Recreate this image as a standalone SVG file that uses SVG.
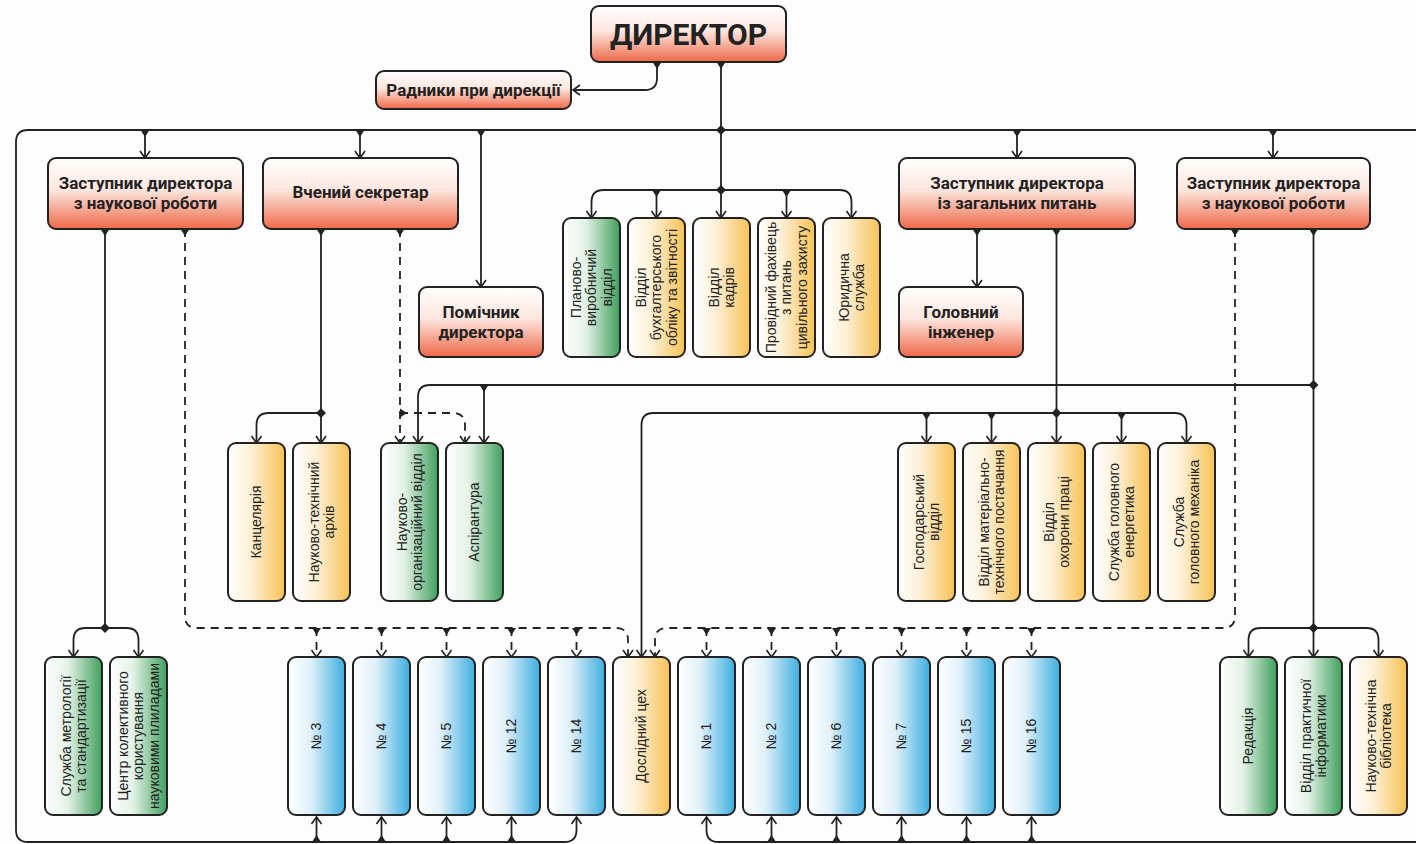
<svg xmlns="http://www.w3.org/2000/svg" width="1416" height="844" viewBox="0 0 1416 844">
<defs>
<linearGradient id="gRed" x1="0" y1="0" x2="0" y2="1"><stop offset="0" stop-color="#ffffff"/><stop offset="0.45" stop-color="#fde6de"/><stop offset="1" stop-color="#ee6848"/></linearGradient>
<linearGradient id="gYel" x1="0" y1="0" x2="1" y2="0"><stop offset="0" stop-color="#ffffff"/><stop offset="0.4" stop-color="#fdf0d6"/><stop offset="1" stop-color="#f7c255"/></linearGradient>
<linearGradient id="gGrn" x1="0" y1="0" x2="1" y2="0"><stop offset="0" stop-color="#ffffff"/><stop offset="0.4" stop-color="#e3f2e6"/><stop offset="1" stop-color="#3fa05c"/></linearGradient>
<linearGradient id="gBlu" x1="0" y1="0" x2="1" y2="0"><stop offset="0" stop-color="#ffffff"/><stop offset="0.4" stop-color="#def0f9"/><stop offset="1" stop-color="#3daee0"/></linearGradient>
<marker id="arr" viewBox="-10 -8 12 16" markerWidth="12" markerHeight="16" refX="0" refY="0" orient="auto" markerUnits="userSpaceOnUse"><path d="M-7,-5 L0,0 L-7,5" fill="none" stroke="#222" stroke-width="1.6"/></marker>
<marker id="tee" viewBox="-1 -6 10 12" markerWidth="10" markerHeight="12" refX="0" refY="0" orient="auto" markerUnits="userSpaceOnUse"><path d="M0,-4.5 L0,4.5 L7,0 z" fill="#222"/></marker>
<path id="dia" d="M0,-5 L5,0 L0,5 L-5,0 z" fill="#222"/>
</defs>
<style>
.box{stroke:#222;stroke-width:2}
.red{fill:url(#gRed)}
.yel{fill:url(#gYel)}
.grn{fill:url(#gGrn)}
.blu{fill:url(#gBlu)}
.h{font-family:Roboto,"Liberation Sans",sans-serif;font-weight:700;font-size:17px;fill:#222;text-anchor:middle}
.v{font-family:"Liberation Sans",Arial,sans-serif;font-size:14px;fill:#222;text-anchor:middle}
.ln{fill:none;stroke:#222;stroke-width:1.8}
.dl{fill:none;stroke:#222;stroke-width:1.8;stroke-dasharray:8 6}
</style>
<rect width="1416" height="844" fill="#fdfdfd"/>

<g id="connectors">
<path class="ln" d="M657,62 V78 Q657,90 645,90 H573" marker-start="url(#tee)" marker-end="url(#arr)"/>
<path class="ln" d="M721,62 V218" marker-start="url(#tee)" marker-end="url(#arr)"/>
<path class="ln" d="M1416,130 H28 Q16,130 16,142 V830 Q16,842 28,842 H564.5 Q576.5,842 576.5,830 V817" marker-end="url(#arr)"/>
<path class="ln" d="M1416,842 H718.5 Q706.5,842 706.5,830 V817" marker-end="url(#arr)"/>
<path class="ln" d="M145,130 V158" marker-start="url(#tee)" marker-end="url(#arr)"/>
<path class="ln" d="M360,130 V158" marker-start="url(#tee)" marker-end="url(#arr)"/>
<path class="ln" d="M481,130 V287" marker-start="url(#tee)" marker-end="url(#arr)"/>
<path class="ln" d="M1017,130 V158" marker-start="url(#tee)" marker-end="url(#arr)"/>
<path class="ln" d="M1273,130 V158" marker-start="url(#tee)" marker-end="url(#arr)"/>
<path class="ln" d="M316.5,842 V817" marker-start="url(#tee)" marker-end="url(#arr)"/>
<path class="ln" d="M381.5,842 V817" marker-start="url(#tee)" marker-end="url(#arr)"/>
<path class="ln" d="M446.5,842 V817" marker-start="url(#tee)" marker-end="url(#arr)"/>
<path class="ln" d="M511.5,842 V817" marker-start="url(#tee)" marker-end="url(#arr)"/>
<path class="ln" d="M771.5,842 V817" marker-start="url(#tee)" marker-end="url(#arr)"/>
<path class="ln" d="M836.5,842 V817" marker-start="url(#tee)" marker-end="url(#arr)"/>
<path class="ln" d="M901.5,842 V817" marker-start="url(#tee)" marker-end="url(#arr)"/>
<path class="ln" d="M966.5,842 V817" marker-start="url(#tee)" marker-end="url(#arr)"/>
<path class="ln" d="M1031.5,842 V817" marker-start="url(#tee)" marker-end="url(#arr)"/>
<path class="ln" d="M721,190 H603.5 Q591.5,190 591.5,202 V218" marker-end="url(#arr)"/>
<path class="ln" d="M721,190 H839.5 Q851.5,190 851.5,202 V218" marker-end="url(#arr)"/>
<path class="ln" d="M656.5,190 V218" marker-start="url(#tee)" marker-end="url(#arr)"/>
<path class="ln" d="M786.5,190 V218" marker-start="url(#tee)" marker-end="url(#arr)"/>
<path class="ln" d="M105,229 V628" marker-start="url(#tee)"/>
<path class="ln" d="M105,628 H85.5 Q73.5,628 73.5,640 V657" marker-end="url(#arr)"/>
<path class="ln" d="M105,628 H126.5 Q138.5,628 138.5,640 V657" marker-end="url(#arr)"/>
<path class="dl" d="M185,229 V616 Q185,628 197,628 H616 Q628,628 628,640 V657" marker-start="url(#tee)" marker-end="url(#arr)"/>
<path class="dl" d="M316.5,628 V657" marker-start="url(#tee)" marker-end="url(#arr)"/>
<path class="dl" d="M381.5,628 V657" marker-start="url(#tee)" marker-end="url(#arr)"/>
<path class="dl" d="M446.5,628 V657" marker-start="url(#tee)" marker-end="url(#arr)"/>
<path class="dl" d="M511.5,628 V657" marker-start="url(#tee)" marker-end="url(#arr)"/>
<path class="dl" d="M576.5,628 V657" marker-start="url(#tee)" marker-end="url(#arr)"/>
<path class="ln" d="M321,229 V443" marker-start="url(#tee)" marker-end="url(#arr)"/>
<path class="ln" d="M321,413 H268.5 Q256.5,413 256.5,425 V443" marker-end="url(#arr)"/>
<path class="dl" d="M400,229 V443" marker-start="url(#tee)" marker-end="url(#arr)"/>
<path class="dl" d="M400,413 H453 Q465,413 465,425 V443" marker-start="url(#tee)" marker-end="url(#arr)"/>
<path class="ln" d="M977,229 V287" marker-start="url(#tee)" marker-end="url(#arr)"/>
<path class="ln" d="M1056.5,229 V443" marker-start="url(#tee)" marker-end="url(#arr)"/>
<path class="ln" d="M1056.5,413 H653.5 Q641.5,413 641.5,425 V657" marker-end="url(#arr)"/>
<path class="ln" d="M926.5,413 V443" marker-start="url(#tee)" marker-end="url(#arr)"/>
<path class="ln" d="M991.5,413 V443" marker-start="url(#tee)" marker-end="url(#arr)"/>
<path class="ln" d="M1056.5,413 H1174.5 Q1186.5,413 1186.5,425 V443" marker-end="url(#arr)"/>
<path class="ln" d="M1121.5,413 V443" marker-start="url(#tee)" marker-end="url(#arr)"/>
<path class="ln" d="M1313.5,229 V657" marker-start="url(#tee)" marker-end="url(#arr)"/>
<path class="ln" d="M1313.5,385 H430 Q418,385 418,397 V443" marker-end="url(#arr)"/>
<path class="ln" d="M484,385 V443" marker-start="url(#tee)" marker-end="url(#arr)"/>
<path class="ln" d="M1313.5,628 H1260.5 Q1248.5,628 1248.5,640 V657" marker-end="url(#arr)"/>
<path class="ln" d="M1313.5,628 H1366.5 Q1378.5,628 1378.5,640 V657" marker-end="url(#arr)"/>
<path class="dl" d="M1235,229 V616 Q1235,628 1223,628 H667 Q655,628 655,640 V657" marker-start="url(#tee)" marker-end="url(#arr)"/>
<path class="dl" d="M706.5,628 V657" marker-start="url(#tee)" marker-end="url(#arr)"/>
<path class="dl" d="M771.5,628 V657" marker-start="url(#tee)" marker-end="url(#arr)"/>
<path class="dl" d="M836.5,628 V657" marker-start="url(#tee)" marker-end="url(#arr)"/>
<path class="dl" d="M901.5,628 V657" marker-start="url(#tee)" marker-end="url(#arr)"/>
<path class="dl" d="M966.5,628 V657" marker-start="url(#tee)" marker-end="url(#arr)"/>
<path class="dl" d="M1031.5,628 V657" marker-start="url(#tee)" marker-end="url(#arr)"/>
<use href="#dia" x="721" y="130"/>
<use href="#dia" x="721" y="190"/>
<use href="#dia" x="105" y="628"/>
<use href="#dia" x="321" y="413"/>
<use href="#dia" x="1056.5" y="413"/>
<use href="#dia" x="1313.5" y="385"/>
<use href="#dia" x="1313.5" y="628"/>
</g>

<g id="n-director"><rect class="box red" x="591" y="6" width="195" height="56" rx="8"/><text class="h" x="688.5" y="45" style="font-size:30px">ДИРЕКТОР</text></g>
<g id="n-radnyky"><rect class="box red" x="376" y="71" width="195" height="38" rx="8"/><text class="h" x="473.5" y="96">Радники при дирекції</text></g>
<g id="n-zast1"><rect class="box red" x="48" y="158" width="195" height="71" rx="8"/><text class="h" x="145.5" y="189">Заступник директора</text><text class="h" x="145.5" y="209">з наукової роботи</text></g>
<g id="n-sekretar"><rect class="box red" x="263" y="158" width="195" height="71" rx="8"/><text class="h" x="360.5" y="198">Вчений секретар</text></g>
<g id="n-pomichnyk"><rect class="box red" x="419" y="287" width="124" height="70" rx="8"/><text class="h" x="481" y="318">Помічник</text><text class="h" x="481" y="338">директора</text></g>
<g id="n-zast2"><rect class="box red" x="899" y="158" width="236" height="71" rx="8"/><text class="h" x="1017" y="189">Заступник директора</text><text class="h" x="1017" y="209">із загальних питань</text></g>
<g id="n-zast3"><rect class="box red" x="1177" y="158" width="193" height="71" rx="8"/><text class="h" x="1273.5" y="189">Заступник директора</text><text class="h" x="1273.5" y="209">з наукової роботи</text></g>
<g id="n-inzhener"><rect class="box red" x="899" y="287" width="124" height="70" rx="8"/><text class="h" x="961" y="318">Головний</text><text class="h" x="961" y="338">інженер</text></g>

<g id="n-planovo"><rect class="box grn" x="563" y="218" width="57" height="139" rx="8"/><text class="v" transform="translate(591.5,287.5) rotate(-90)"><tspan x="0" y="-10.6">Планово-</tspan><tspan x="0" y="4.9">виробничий</tspan><tspan x="0" y="20.4">відділ</tspan></text></g>
<g id="n-buh"><rect class="box yel" x="628" y="218" width="57" height="139" rx="8"/><text class="v" transform="translate(656.5,287.5) rotate(-90)"><tspan x="0" y="-10.6">Відділ</tspan><tspan x="0" y="4.9">бухгалтерського</tspan><tspan x="0" y="20.4">обліку та звітності</tspan></text></g>
<g id="n-kadry"><rect class="box yel" x="693" y="218" width="57" height="139" rx="8"/><text class="v" transform="translate(721.5,287.5) rotate(-90)"><tspan x="0" y="-2.85">Відділ</tspan><tspan x="0" y="12.65">кадрів</tspan></text></g>
<g id="n-cz"><rect class="box yel" x="758" y="218" width="57" height="139" rx="8"/><text class="v" transform="translate(786.5,287.5) rotate(-90)"><tspan x="0" y="-10.6">Провідний фахівець</tspan><tspan x="0" y="4.9">з питань</tspan><tspan x="0" y="20.4">цивільного захисту</tspan></text></g>
<g id="n-yur"><rect class="box yel" x="823" y="218" width="57" height="139" rx="8"/><text class="v" transform="translate(851.5,287.5) rotate(-90)"><tspan x="0" y="-2.85">Юридична</tspan><tspan x="0" y="12.65">служба</tspan></text></g>

<g id="n-kanc"><rect class="box yel" x="228" y="443" width="57" height="158" rx="8"/><text class="v" transform="translate(256.5,522) rotate(-90)"><tspan x="0" y="4.9">Канцелярія</tspan></text></g>
<g id="n-arhiv"><rect class="box yel" x="293" y="443" width="57" height="158" rx="8"/><text class="v" transform="translate(321.5,522) rotate(-90)"><tspan x="0" y="-2.85">Науково-технічний</tspan><tspan x="0" y="12.65">архів</tspan></text></g>
<g id="n-nov"><rect class="box grn" x="381" y="443" width="57" height="158" rx="8"/><text class="v" transform="translate(409.5,522) rotate(-90)"><tspan x="0" y="-2.85">Науково-</tspan><tspan x="0" y="12.65">організаційний відділ</tspan></text></g>
<g id="n-asp"><rect class="box grn" x="446" y="443" width="57" height="158" rx="8"/><text class="v" transform="translate(474.5,522) rotate(-90)"><tspan x="0" y="4.9">Аспірантура</tspan></text></g>

<g id="n-gosp"><rect class="box yel" x="898" y="443" width="57" height="158" rx="8"/><text class="v" transform="translate(926.5,522) rotate(-90)"><tspan x="0" y="-2.85">Господарський</tspan><tspan x="0" y="12.65">відділ</tspan></text></g>
<g id="n-mtp"><rect class="box yel" x="963" y="443" width="57" height="158" rx="8"/><text class="v" transform="translate(991.5,522) rotate(-90)"><tspan x="0" y="-2.85">Відділ матеріально-</tspan><tspan x="0" y="12.65">технічного постачання</tspan></text></g>
<g id="n-op"><rect class="box yel" x="1028" y="443" width="57" height="158" rx="8"/><text class="v" transform="translate(1056.5,522) rotate(-90)"><tspan x="0" y="-2.85">Відділ</tspan><tspan x="0" y="12.65">охорони праці</tspan></text></g>
<g id="n-energ"><rect class="box yel" x="1093" y="443" width="57" height="158" rx="8"/><text class="v" transform="translate(1121.5,522) rotate(-90)"><tspan x="0" y="-2.85">Служба головного</tspan><tspan x="0" y="12.65">енергетика</tspan></text></g>
<g id="n-mech"><rect class="box yel" x="1158" y="443" width="57" height="158" rx="8"/><text class="v" transform="translate(1186.5,522) rotate(-90)"><tspan x="0" y="-2.85">Служба</tspan><tspan x="0" y="12.65">головного механіка</tspan></text></g>

<g id="n-metr"><rect class="box grn" x="45" y="657" width="57" height="158" rx="8"/><text class="v" transform="translate(73.5,736) rotate(-90)"><tspan x="0" y="-2.85">Служба метрології</tspan><tspan x="0" y="12.65">та стандартизації</tspan></text></g>
<g id="n-ckk"><rect class="box grn" x="110" y="657" width="57" height="158" rx="8"/><text class="v" transform="translate(138.5,736) rotate(-90)"><tspan x="0" y="-10.6">Центр колективного</tspan><tspan x="0" y="4.9">користування</tspan><tspan x="0" y="20.4">науковими плиладами</tspan></text></g>
<g id="n-3"><rect class="box blu" x="288" y="657" width="57" height="158" rx="8"/><text class="v" transform="translate(316.5,736) rotate(-90)"><tspan x="0" y="4.9">№ 3</tspan></text></g>
<g id="n-4"><rect class="box blu" x="353" y="657" width="57" height="158" rx="8"/><text class="v" transform="translate(381.5,736) rotate(-90)"><tspan x="0" y="4.9">№ 4</tspan></text></g>
<g id="n-5"><rect class="box blu" x="418" y="657" width="57" height="158" rx="8"/><text class="v" transform="translate(446.5,736) rotate(-90)"><tspan x="0" y="4.9">№ 5</tspan></text></g>
<g id="n-12"><rect class="box blu" x="483" y="657" width="57" height="158" rx="8"/><text class="v" transform="translate(511.5,736) rotate(-90)"><tspan x="0" y="4.9">№ 12</tspan></text></g>
<g id="n-14"><rect class="box blu" x="548" y="657" width="57" height="158" rx="8"/><text class="v" transform="translate(576.5,736) rotate(-90)"><tspan x="0" y="4.9">№ 14</tspan></text></g>
<g id="n-dosl"><rect class="box yel" x="613" y="657" width="57" height="158" rx="8"/><text class="v" transform="translate(641.5,736) rotate(-90)"><tspan x="0" y="4.9">Дослідний цех</tspan></text></g>
<g id="n-1"><rect class="box blu" x="678" y="657" width="57" height="158" rx="8"/><text class="v" transform="translate(706.5,736) rotate(-90)"><tspan x="0" y="4.9">№ 1</tspan></text></g>
<g id="n-2"><rect class="box blu" x="743" y="657" width="57" height="158" rx="8"/><text class="v" transform="translate(771.5,736) rotate(-90)"><tspan x="0" y="4.9">№ 2</tspan></text></g>
<g id="n-6"><rect class="box blu" x="808" y="657" width="57" height="158" rx="8"/><text class="v" transform="translate(836.5,736) rotate(-90)"><tspan x="0" y="4.9">№ 6</tspan></text></g>
<g id="n-7"><rect class="box blu" x="873" y="657" width="57" height="158" rx="8"/><text class="v" transform="translate(901.5,736) rotate(-90)"><tspan x="0" y="4.9">№ 7</tspan></text></g>
<g id="n-15"><rect class="box blu" x="938" y="657" width="57" height="158" rx="8"/><text class="v" transform="translate(966.5,736) rotate(-90)"><tspan x="0" y="4.9">№ 15</tspan></text></g>
<g id="n-16"><rect class="box blu" x="1003" y="657" width="57" height="158" rx="8"/><text class="v" transform="translate(1031.5,736) rotate(-90)"><tspan x="0" y="4.9">№ 16</tspan></text></g>
<g id="n-red"><rect class="box grn" x="1220" y="657" width="57" height="158" rx="8"/><text class="v" transform="translate(1248.5,736) rotate(-90)"><tspan x="0" y="4.9">Редакція</tspan></text></g>
<g id="n-inf"><rect class="box grn" x="1285" y="657" width="57" height="158" rx="8"/><text class="v" transform="translate(1313.5,736) rotate(-90)"><tspan x="0" y="-2.85">Відділ практичної</tspan><tspan x="0" y="12.65">інформатики</tspan></text></g>
<g id="n-bib"><rect class="box yel" x="1350" y="657" width="57" height="158" rx="8"/><text class="v" transform="translate(1378.5,736) rotate(-90)"><tspan x="0" y="-2.85">Науково-технічна</tspan><tspan x="0" y="12.65">бібліотека</tspan></text></g>
</svg>
